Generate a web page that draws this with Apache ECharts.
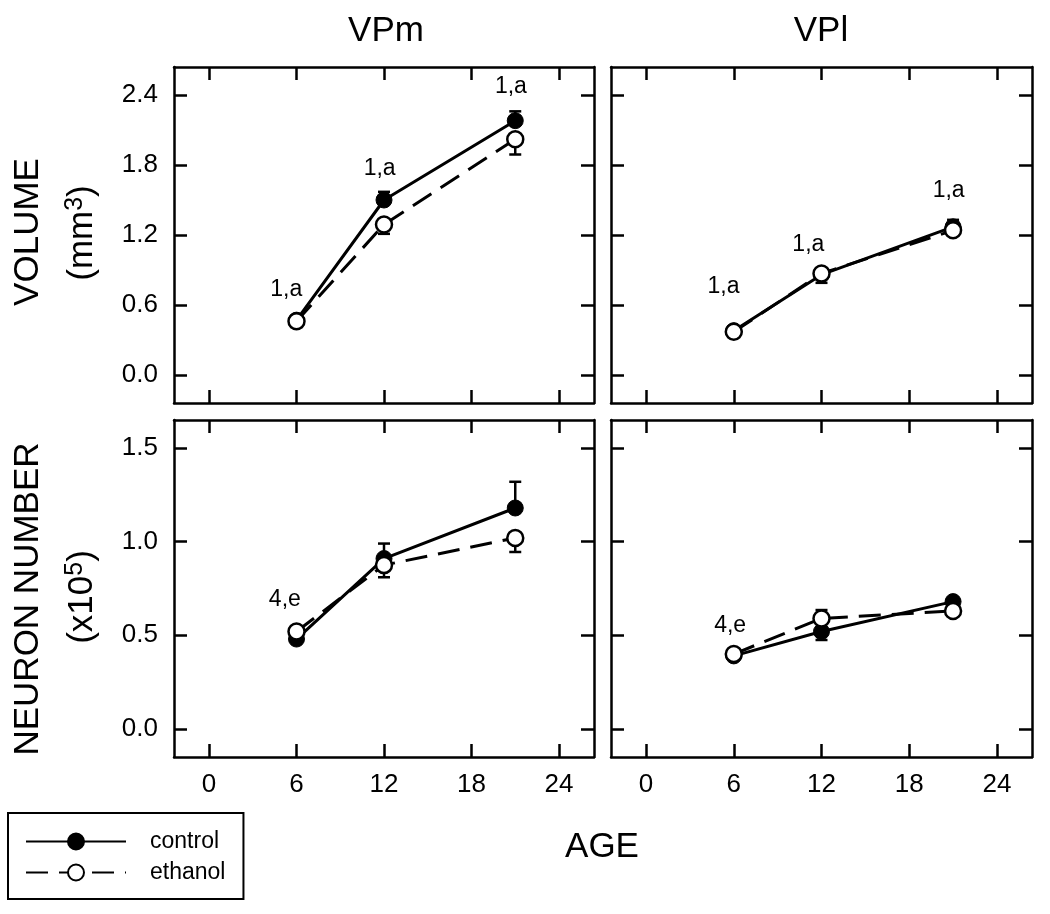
<!DOCTYPE html>
<html><head><meta charset="utf-8">
<script src="https://cdn.jsdelivr.net/npm/echarts@6/dist/echarts.min.js"></script>
<style>html,body{margin:0;padding:0;background:#fff}#c{width:1050px;height:914px}</style>
</head><body><div id="c"></div>
<script>
// ---------- data ----------
const ages = [6, 12, 21];
const xTicks = [0, 6, 12, 18, 24];
const volTicks = [0.0, 0.6, 1.2, 1.8, 2.4];
const neuTicks = [0.0, 0.5, 1.0, 1.5];
const panelTitles = ['VPm', 'VPl'];
const seriesNames = ['control', 'ethanol'];

// VPm volume (mm^3)
const vpmVolControl = [0.47, 1.50, 2.18];
const vpmVolControlCap = [null, 1.57, 2.26];
const vpmVolEthanol = [0.46, 1.29, 2.02];
const vpmVolEthanolCap = [0.41, 1.21, 1.89];
const vpmVolNotes = [['1,a', 5.3, 0.73], ['1,a', 11.7, 1.77], ['1,a', 20.7, 2.47]];

// VPl volume (mm^3)
const vplVolControl = [0.38, 0.86, 1.27];
const vplVolControlCap = [null, null, 1.33];
const vplVolEthanol = [0.37, 0.87, 1.24];
const vplVolEthanolCap = [null, 0.79, null];
const vplVolNotes = [['1,a', 5.3, 0.76], ['1,a', 11.1, 1.12], ['1,a', 20.7, 1.58]];

// VPm neuron number (x10^5)
const vpmNeuControl = [0.48, 0.91, 1.18];
const vpmNeuControlCap = [null, 0.99, 1.32];
const vpmNeuEthanol = [0.52, 0.875, 1.02];
const vpmNeuEthanolCap = [null, 0.81, 0.945];
const vpmNeuNotes = [['4,e', 5.2, 0.69]];

// VPl neuron number (x10^5)
const vplNeuControl = [0.39, 0.52, 0.68];
const vplNeuControlCap = [null, 0.475, null];
const vplNeuEthanol = [0.40, 0.59, 0.63];
const vplNeuEthanolCap = [null, 0.635, null];
const vplNeuNotes = [['4,e', 5.75, 0.55]];

// ---------- layout ----------
const FONT = 'Liberation Sans, Arial, sans-serif';
const LW = 2.5;
const DLW = 3;
const panels = [
  {grid: {left: 174, top: 67, width: 420, height: 336}, yMin: -0.24, yMax: 2.64, yTicks: volTicks, leftCol: true, bottomRow: false,
   ctrl: vpmVolControl, ctrlCap: vpmVolControlCap, eth: vpmVolEthanol, ethCap: vpmVolEthanolCap, notes: vpmVolNotes},
  {grid: {left: 611, top: 67, width: 421, height: 336}, yMin: -0.24, yMax: 2.64, yTicks: volTicks, leftCol: false, bottomRow: false,
   ctrl: vplVolControl, ctrlCap: vplVolControlCap, eth: vplVolEthanol, ethCap: vplVolEthanolCap, notes: vplVolNotes},
  {grid: {left: 174, top: 420, width: 420, height: 337}, yMin: -0.15, yMax: 1.65, yTicks: neuTicks, leftCol: true, bottomRow: true,
   ctrl: vpmNeuControl, ctrlCap: vpmNeuControlCap, eth: vpmNeuEthanol, ethCap: vpmNeuEthanolCap, notes: vpmNeuNotes},
  {grid: {left: 611, top: 420, width: 421, height: 337}, yMin: -0.15, yMax: 1.65, yTicks: neuTicks, leftCol: false, bottomRow: true,
   ctrl: vplNeuControl, ctrlCap: vplNeuControlCap, eth: vplNeuEthanol, ethCap: vplNeuEthanolCap, notes: vplNeuNotes}
];

const grids = [], xAxes = [], yAxes = [], series = [];
const lineStyle = {color: '#000', width: LW};
const tickStyle = {inside: true, length: 13, lineStyle: {color: '#000', width: LW}};

function errRender(params, api) {
  const x = api.value(0), y = api.value(1), cap = api.value(2);
  const p0 = api.coord([x, y]);
  const p1 = api.coord([x, cap]);
  return {type: 'group', children: [
    {type: 'line', shape: {x1: p0[0], y1: p0[1], x2: p1[0], y2: p1[1]}, style: {stroke: '#000', lineWidth: LW}},
    {type: 'line', shape: {x1: p1[0] - 6, y1: p1[1], x2: p1[0] + 6, y2: p1[1]}, style: {stroke: '#000', lineWidth: LW}}
  ]};
}

panels.forEach((p, gi) => {
  grids.push(p.grid);
  const xb = xAxes.length;
  [['bottom', p.bottomRow], ['top', false]].forEach(([pos, lab]) => {
    xAxes.push({type: 'value', gridIndex: gi, position: pos, min: -2.4, max: 26.4,
      axisLine: {show: true, onZero: false, lineStyle: lineStyle},
      axisTick: Object.assign({customValues: xTicks}, tickStyle),
      axisLabel: {show: lab, customValues: xTicks, margin: 15, fontSize: 26, fontFamily: FONT, color: '#000'},
      splitLine: {show: false}});
  });
  const yb = yAxes.length;
  [['left', p.leftCol], ['right', false]].forEach(([pos, lab]) => {
    yAxes.push({type: 'value', gridIndex: gi, position: pos, min: p.yMin, max: p.yMax,
      axisLine: {show: true, onZero: false, lineStyle: lineStyle},
      axisTick: Object.assign({customValues: p.yTicks}, tickStyle),
      axisLabel: {show: lab, customValues: p.yTicks, margin: 16, fontSize: 26, fontFamily: FONT, color: '#000',
        formatter: v => Number(v).toFixed(1)},
      splitLine: {show: false}});
  });
  const mk = (vals) => ages.map((a, i) => [a, vals[i]]);
  const mkErr = (vals, caps) => ages.map((a, i) => caps[i] == null ? null : [a, vals[i], caps[i]]).filter(d => d);
  series.push({type: 'custom', name: 'err', xAxisIndex: xb, yAxisIndex: yb, renderItem: errRender,
    data: mkErr(p.ctrl, p.ctrlCap).concat(mkErr(p.eth, p.ethCap)), encode: {x: 0, y: 1}, z: 1, silent: true});
  series.push({type: 'line', name: seriesNames[0], xAxisIndex: xb, yAxisIndex: yb, data: mk(p.ctrl),
    symbol: 'circle', symbolSize: 16, lineStyle: {color: '#000', width: DLW, type: 'solid'},
    itemStyle: {color: '#000', borderColor: '#000', borderWidth: 1}, z: 2});
  series.push({type: 'line', name: seriesNames[1], xAxisIndex: xb, yAxisIndex: yb, data: mk(p.eth),
    symbol: 'circle', symbolSize: 16, lineStyle: {color: '#000', width: DLW, type: [22, 11]},
    itemStyle: {color: '#fff', borderColor: '#000', borderWidth: LW}, z: 3});
  series.push({type: 'scatter', name: 'notes', xAxisIndex: xb, yAxisIndex: yb, symbolSize: 0, silent: true,
    itemStyle: {opacity: 1, color: '#000'},
    data: p.notes.map(n => [n[1], n[2], n[0]]),
    label: {show: true, position: 'inside', formatter: d => d.value[2], fontSize: 23, fontFamily: FONT, color: '#000', opacity: 1}, z: 4});
});

const txt = (text, x, y, size, rot) => ({type: 'text', x: x, y: y, rotation: rot || 0,
  style: {text: text, fontSize: size, fontFamily: FONT, fill: '#000', align: 'center', verticalAlign: 'middle',
    rich: {b: {fontSize: size, fontFamily: FONT}, s: {fontSize: 25, fontFamily: FONT, padding: [0, 0, 14, 0]}}}});

const option = {
  animation: false,
  backgroundColor: '#fff',
  grid: grids,
  xAxis: xAxes,
  yAxis: yAxes,
  series: series,
  legend: {data: seriesNames, orient: 'vertical', left: 8, top: 813, itemWidth: 100, itemHeight: 20, itemGap: 8,
    padding: [17, 18, 15, 17], borderColor: '#000', borderWidth: 2, selectedMode: false,
    textStyle: {fontSize: 23, fontFamily: FONT, color: '#000', padding: [0, 0, 0, 19]}},
  graphic: [
    txt(panelTitles[0], 386, 31, 35),
    txt(panelTitles[1], 821, 31, 35),
    txt('AGE', 602, 847, 35),
    txt('VOLUME', 28, 232, 35, Math.PI / 2),
    txt('{b|(mm}{s|3}{b|)}', 82, 233, 35, Math.PI / 2),
    txt('NEURON NUMBER', 28, 599, 35, Math.PI / 2),
    txt('{b|(x10}{s|5}{b|)}', 82, 597, 35, Math.PI / 2)
  ]
};
const chart = echarts.init(document.getElementById('c'));
chart.setOption(option);
</script>
</body></html>
